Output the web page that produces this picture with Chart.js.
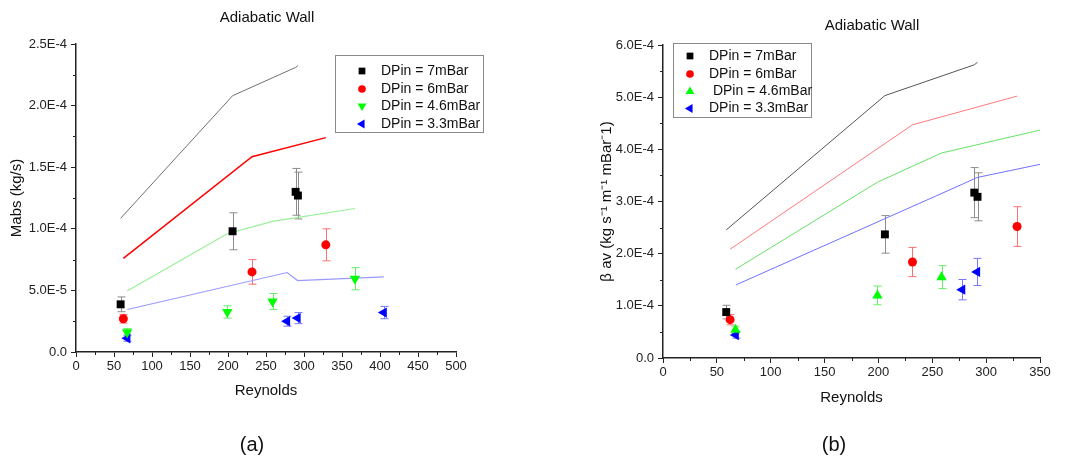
<!DOCTYPE html>
<html lang="en">
<head>
  <meta charset="UTF-8" />
  <title>Adiabatic Wall</title>
  <script src="https://cdn.jsdelivr.net/npm/chart.js"></script>
  <style>
    body {
      margin: 0;
      background: #fff;
    }
    .wrap {
      position: relative;
      width: 1067px;
      height: 458px;
    }
    #chartA { position: absolute; left: 0; top: 0; }
    #chartB { position: absolute; left: 530px; top: 0; }
  </style>
</head>
<body>
  <div class="wrap">
    <canvas id="chartA" width="530" height="458"></canvas>
    <canvas id="chartB" width="537" height="458"></canvas>
  </div>

  <script>
    // Reynolds number of each run, per inlet pressure
    const reBlack = [58.7, 206, 289, 292];
    const reRed = [62.3, 231.6, 328.7];
    const reGreen = [67.3, 199.1, 258.6, 367];
    const reBlue = [67.6, 277.8, 291.6, 405];

    const legendLabels = ['DPin = 7mBar', 'DPin = 6mBar', 'DPin = 4.6mBar', 'DPin = 3.3mBar'];
    const legendLabelsB = ['DPin = 7mBar', 'DPin = 6mBar', ' DPin = 4.6mBar', 'DPin = 3.3mBar'];

    // (a) Mabs (kg/s) measured + error
    const mabsBlack = [3.87e-5, 9.8e-5, 1.30e-4, 1.27e-4];
    const mabsBlackErr = [0.6e-5, 1.5e-5, 1.9e-5, 1.9e-5];
    const mabsRed = [2.7e-5, 6.5e-5, 8.7e-5];
    const mabsRedErr = [0.35e-5, 1.0e-5, 1.3e-5];
    const mabsGreen = [1.6e-5, 3.25e-5, 4.1e-5, 5.95e-5];
    const mabsGreenErr = [0.3e-5, 0.5e-5, 0.65e-5, 0.9e-5];
    const mabsBlue = [1.12e-5, 2.5e-5, 2.75e-5, 3.2e-5];
    const mabsBlueErr = [0.25e-5, 0.4e-5, 0.45e-5, 0.5e-5];

    // (a) model lines
    const mabsModelBlack = [1.085e-4, 2.08e-4, 2.31e-4, 2.325e-4];
    const mabsModelRed = [7.6e-5, 1.585e-4, 1.74e-4];
    const mabsModelGreen = [4.95e-5, 9.6e-5, 1.06e-4, 1.165e-4];
    const mabsModelBlue = [3.45e-5, 6.45e-5, 5.8e-5, 6.1e-5];

    // (b) beta av measured + error (points beyond Re 350 are off the axis)
    const betaBlack = [8.8e-5, 2.37e-4, 3.17e-4, 3.09e-4];
    const betaBlackErr = [1.3e-5, 3.6e-5, 4.8e-5, 4.6e-5];
    const betaRed = [7.35e-5, 1.84e-4, 2.52e-4];
    const betaRedErr = [1.0e-5, 2.8e-5, 3.8e-5];
    const betaGreen = [5.4e-5, 1.2e-4, 1.55e-4];
    const betaGreenErr = [0.7e-5, 1.8e-5, 2.2e-5];
    const betaBlue = [4.4e-5, 1.31e-4, 1.65e-4];
    const betaBlueErr = [0.6e-5, 1.95e-5, 2.6e-5];

    // (b) model lines
    const betaModelBlack = [2.455e-4, 5.03e-4, 5.62e-4, 5.67e-4];
    const betaModelRed = [2.085e-4, 4.47e-4, 5.02e-4];
    const betaModelGreen = [1.70e-4, 3.37e-4, 3.93e-4, 4.45e-4];
    const betaModelBlue = [1.40e-4, 3.33e-4, 3.46e-4, 3.95e-4];

    const FONT = '"Liberation Sans", Arial, sans-serif';
    Chart.defaults.font.family = FONT;
    Chart.defaults.color = '#222';

    function markers(label, re, vals, errs, color, errColor, style, rot, r) {
      return {
        label,
        data: vals.map((y, i) => ({ x: re[i], y })),
        errors: errs,
        errorColor: errColor,
        showLine: false,
        pointStyle: style,
        pointRotation: rot,
        pointRadius: r,
        pointHoverRadius: r,
        pointBackgroundColor: color,
        pointBorderWidth: 0,
        borderColor: color
      };
    }

    function model(re, vals, color, width) {
      return {
        data: vals.map((y, i) => ({ x: re[i], y })),
        showLine: true,
        pointRadius: 0,
        borderColor: color,
        borderWidth: width,
        tension: 0,
        fill: false
      };
    }

    function sci(v) {
      if (Math.abs(v) < 1e-12) return '0.0';
      return v.toExponential(1).toUpperCase();
    }

    function xAxis(max, height) {
      return {
        type: 'linear',
        min: 0,
        max,
        afterFit: s => { s.height = height; },
        border: { color: '#222', width: 1.5 },
        grid: { drawOnChartArea: false, color: '#222', tickLength: 5 },
        ticks: { stepSize: 50, color: '#222', font: { size: 13 }, padding: 2, maxRotation: 0, autoSkip: false },
        title: { display: true, text: 'Reynolds', color: '#111', font: { size: 15 }, padding: { top: 4, bottom: 4 } }
      };
    }

    function yAxis(max, step, width, title, titlePad) {
      return {
        type: 'linear',
        min: 0,
        max,
        afterFit: s => { s.width = width; },
        border: { color: '#222', width: 1.5 },
        grid: { drawOnChartArea: false, color: '#222', tickLength: 5 },
        ticks: { stepSize: step, color: '#222', font: { size: 13 }, padding: 4, autoSkip: false, callback: v => sci(v) },
        title: { display: true, text: title, color: '#111', font: { size: 15 }, padding: { top: titlePad, bottom: 4 } }
      };
    }

    // vertical error bars with caps, under the markers
    const errorBars = {
      id: 'errorBars',
      beforeDatasetsDraw(chart) {
        const { ctx, scales: { x, y } } = chart;
        ctx.save();
        ctx.lineWidth = 1;
        chart.data.datasets.forEach(ds => {
          if (!ds.errors) return;
          ctx.strokeStyle = ds.errorColor;
          ds.data.forEach((p, i) => {
            const px = Math.round(x.getPixelForValue(p.x)) + 0.5;
            const top = y.getPixelForValue(p.y + ds.errors[i]);
            const bot = y.getPixelForValue(p.y - ds.errors[i]);
            ctx.beginPath();
            ctx.moveTo(px, top); ctx.lineTo(px, bot);
            ctx.moveTo(px - 4, top); ctx.lineTo(px + 4, top);
            ctx.moveTo(px - 4, bot); ctx.lineTo(px + 4, bot);
            ctx.stroke();
          });
        });
        ctx.restore();
      }
    };

    const minorTicks = {
      id: 'minorTicks',
      afterDraw(chart, args, opts) {
        const { ctx, scales: { x, y } } = chart;
        ctx.save();
        ctx.strokeStyle = '#222';
        ctx.lineWidth = 1;
        ctx.beginPath();
        for (let v = opts.x; v < x.max; v += 2 * opts.x) {
          const px = Math.round(x.getPixelForValue(v)) + 0.5;
          ctx.moveTo(px, x.top); ctx.lineTo(px, x.top + 3);
        }
        for (let v = opts.y; v < y.max; v += 2 * opts.y) {
          const py = Math.round(y.getPixelForValue(v)) + 0.5;
          ctx.moveTo(y.right, py); ctx.lineTo(y.right - 3, py);
        }
        ctx.stroke();
        ctx.restore();
      }
    };

    const captions = {
      id: 'captions',
      afterDraw(chart, args, opts) {
        const ctx = chart.ctx;
        ctx.save();
        ctx.fillStyle = '#111';
        ctx.textAlign = 'center';
        ctx.textBaseline = 'middle';
        ctx.font = '15px ' + FONT;
        ctx.fillText('Adiabatic Wall', opts.titleX, opts.titleY);
        ctx.font = '20px ' + FONT;
        ctx.fillText(opts.caption, opts.captionX, opts.captionY);
        ctx.restore();
      }
    };

    const boxLegend = {
      id: 'boxLegend',
      afterDraw(chart, args, opts) {
        const ctx = chart.ctx;
        ctx.save();
        ctx.strokeStyle = '#8a8a8a';
        ctx.lineWidth = 1;
        ctx.strokeRect(opts.left + 0.5, opts.top + 0.5, opts.width, opts.height);
        ctx.font = '14px ' + FONT;
        ctx.textBaseline = 'middle';
        ctx.textAlign = 'left';
        chart.data.datasets.filter(ds => ds.errors).forEach((ds, i) => {
          ctx.fillStyle = ds.pointBackgroundColor;
          Chart.helpers.drawPoint(ctx, {
            pointStyle: ds.pointStyle,
            radius: ds.pointRadius * 0.85,
            rotation: ds.pointRotation,
            borderWidth: 0
          }, opts.markerX, opts.rows[i]);
          ctx.fillStyle = '#111';
          ctx.fillText(ds.label, opts.textX, opts.rows[i]);
        });
        ctx.restore();
      }
    };

    new Chart(document.getElementById('chartA'), {
      type: 'scatter',
      data: {
        datasets: [
          markers(legendLabels[0], reBlack, mabsBlack, mabsBlackErr, '#000000', '#8c8c8c', 'rect', 0, 5.6),
          markers(legendLabels[1], reRed, mabsRed, mabsRedErr, '#ff0000', '#ff7070', 'circle', 0, 4.5),
          markers(legendLabels[2], reGreen, mabsGreen, mabsGreenErr, '#00ff00', '#66ee66', 'triangle', 180, 6),
          markers(legendLabels[3], reBlue, mabsBlue, mabsBlueErr, '#0000ff', '#7777ff', 'triangle', -90, 6),
          model(reBlack, mabsModelBlack, '#707070', 1),
          model(reRed, mabsModelRed, '#ff0000', 1.5),
          model(reGreen, mabsModelGreen, '#99f099', 1.2),
          model(reBlue, mabsModelBlue, '#9999ff', 1.2)
        ]
      },
      options: {
        responsive: false,
        animation: false,
        layout: { padding: { left: 0, top: 44, right: 74, bottom: 54 } },
        scales: {
          x: xAxis(500, 52),
          y: yAxis(2.5e-4, 5e-5, 76, 'Mabs (kg/s)', 8)
        },
        plugins: {
          legend: { display: false },
          tooltip: { enabled: false },
          minorTicks: { x: 25, y: 2.5e-5 },
          captions: { titleX: 267, titleY: 18, caption: '(a)', captionX: 252, captionY: 445 },
          boxLegend: { left: 335, top: 55, width: 148, height: 77, markerX: 362, textX: 381, rows: [71, 89, 106, 124] }
        }
      },
      plugins: [errorBars, minorTicks, captions, boxLegend]
    });

    new Chart(document.getElementById('chartB'), {
      type: 'scatter',
      data: {
        datasets: [
          markers(legendLabelsB[0], reBlack, betaBlack, betaBlackErr, '#000000', '#8c8c8c', 'rect', 0, 5.6),
          markers(legendLabelsB[1], reRed, betaRed, betaRedErr, '#ff0000', '#ff7070', 'circle', 0, 4.5),
          markers(legendLabelsB[2], reGreen, betaGreen, betaGreenErr, '#00ff00', '#66ee66', 'triangle', 0, 6),
          markers(legendLabelsB[3], reBlue, betaBlue, betaBlueErr, '#0000ff', '#7777ff', 'triangle', -90, 6),
          model(reBlack, betaModelBlack, '#555555', 1),
          model(reRed, betaModelRed, '#ff7a7a', 1),
          model(reGreen, betaModelGreen, '#66e066', 1),
          model(reBlue, betaModelBlue, '#7070ff', 1)
        ]
      },
      options: {
        responsive: false,
        animation: false,
        layout: { padding: { left: 64, top: 45, right: 27, bottom: 47 } },
        scales: {
          x: xAxis(350, 53),
          y: yAxis(6e-4, 1e-4, 69, 'β av (kg s⁻¹ m⁻¹ mBar⁻1)', 4)
        },
        plugins: {
          legend: { display: false },
          tooltip: { enabled: false },
          minorTicks: { x: 25, y: 5e-5 },
          captions: { titleX: 342, titleY: 26, caption: '(b)', captionX: 304, captionY: 445 },
          boxLegend: { left: 143, top: 43, width: 138, height: 74, markerX: 160, textX: 179, rows: [56, 74, 91.5, 108.5] }
        }
      },
      plugins: [errorBars, minorTicks, captions, boxLegend]
    });
  </script>
</body>
</html>
